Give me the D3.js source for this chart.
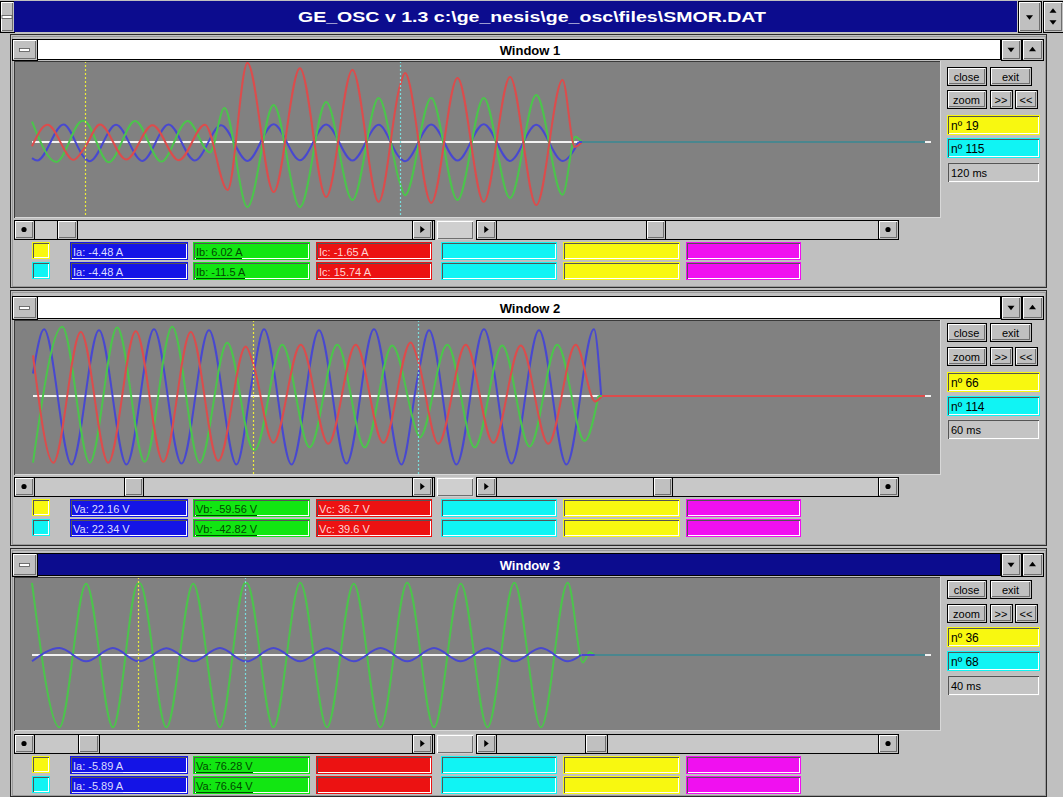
<!DOCTYPE html>
<html>
<head>
<meta charset="utf-8">
<script src="https://cdn.jsdelivr.net/npm/d3@7"></script>
<style>
  html, body { margin: 0; padding: 0; background: #c0c0c0; overflow: hidden; }
  svg { display: block; }
  text { font-family: "Liberation Sans", Arial, sans-serif; }
</style>
</head>
<body>
<svg id="scope" width="1063" height="797"></svg>
<script>
// ---------------------------------------------------------------
// Record SMOR.DAT — 800 Hz sampling (16 samples per 50 Hz cycle)
// Each trace is a list of [sample nº, value] points: the crest of every
// half-cycle plus the readings at the two cursors.
// ---------------------------------------------------------------
const sampleMs = 1.25;
const appTitle = "GE_OSC  v 1.3  c:\\ge_nesis\\ge_osc\\files\\SMOR.DAT";

// Window 1 — phase currents (A)
const w1Names = ["Ia", "Ib", "Ic"];
const w1Units = ["A", "A", "A"];
const w1Span = [3, 275];
const w1Cursors = [19, 115];
const w1AtCursor1 = [-4.48, 6.02, -1.65];
const w1AtCursor2 = [-4.48, -11.5, 15.74];
const w1Ia = [[3,-4.6],[4.6,-5.3],[12.6,5.0],[20.6,-5.5],[28.6,4.9],[36.6,-5.4],[44.6,5.0],[52.6,-5.3],[60.6,4.8],[68.6,-5.4],[76.6,5.1],[84.6,-5.2],[92.6,5.0],[100.6,-5.3],[108.6,4.9],[116.6,-5.5],[124.6,5.0],[132.6,-5.3],[140.6,5.1],[148.6,-5.4],[156.6,4.9],[164.6,-5.4],[169.5,0],[275,0]];
const w1Ib = [[3,5.8],[10.4,-5.7],[18.4,6.1],[26.4,-5.8],[34.4,6.0],[42.4,-5.6],[50.4,6.0],[57.2,-3.0],[61.6,9.7],[68.6,-18.6],[76.6,10.6],[84.6,-18.6],[92.6,11.4],[100.6,-16.6],[108.6,12.6],[116.6,-15.2],[124.6,12.6],[132.6,-16.6],[140.6,12.6],[148.6,-16.0],[156.6,13.4],[164.6,-15.1],[168.5,1.5],[170.5,0],[275,0]];
const w1Ic = [[3,-1.2],[7.7,4.9],[15.7,-5.1],[23.7,5.0],[31.7,-5.0],[39.7,4.8],[47.7,-5.2],[55.7,4.9],[62.6,-13.7],[68.6,22.6],[76.6,-14.3],[84.6,21.1],[92.6,-15.7],[100.6,20.6],[108.6,-17.1],[116.6,19.7],[124.6,-17.4],[132.6,18.3],[140.6,-17.1],[148.6,18.6],[156.6,-18.0],[164.6,17.7],[168.3,-1.4],[170.5,0],[275,0]];
const w1FullScale = [22, 22, 22];

// Window 2 — phase voltages (V)
const w2Names = ["Va", "Vb", "Vc"];
const w2Units = ["V", "V", "V"];
const w2Span = [2, 261.5];
const w2Cursors = [66, 114];
const w2AtCursor1 = [22.16, -59.56, 36.7];
const w2AtCursor2 = [22.34, -42.82, 39.6];
const w2Va = [[2,25],[5.2,74],[13.2,-76],[21.2,73],[29.2,-76],[37.2,74],[45.2,-75],[53.2,73],[61.2,-76],[69.2,74],[77.2,-76],[85.2,73],[93.2,-75],[101.2,74],[109.2,-76],[117.2,73],[125.2,-76],[133.2,74],[141.2,-75],[149.2,73],[157.2,-76],[165.2,74],[167.3,0],[261.5,0]];
const w2Vb = [[2,-74],[10.5,77],[18.5,-74],[26.5,76],[34.5,-73],[42.5,77],[50.5,-74],[58.5,59],[66.5,-60],[74.5,57],[82.5,-57],[90.5,57],[98.5,-57],[106.5,56],[114.5,-46],[122.5,57],[130.5,-57],[138.5,56],[146.5,-56],[154.5,57],[162.5,-50],[166.5,0],[261.5,0]];
const w2Vc = [[2,45],[7.9,-74],[15.9,71],[23.9,-74],[31.9,72],[39.9,-73],[47.9,71],[55.9,-72],[63.9,55],[71.9,-52],[79.9,57],[87.9,-53],[95.9,57],[103.9,-52],[111.9,59.5],[119.9,-53],[127.9,57],[135.9,-52],[143.9,56],[151.9,-53],[159.9,57],[165.5,-6],[167.5,0],[261.5,0]];
const w2FullScale = [85.5, 85.5, 85.5];

// Window 3 — phase A current (A) and voltage (V)
const w3Names = ["Ia", "Va"];
const w3Units = ["A", "V"];
const w3Span = [4.3, 271.3];
const w3Cursors = [36, 68];
const w3AtCursor1 = [-5.89, 76.28];
const w3AtCursor2 = [-5.89, 76.64];
const w3Ia = [[4.3,-5.9],[12.5,6.5],[20.5,-5.95],[28.5,6.5],[36.5,-5.95],[44.5,6.4],[52.5,-5.95],[60.5,6.5],[68.5,-5.95],[76.5,6.5],[84.5,-5.95],[92.5,6.4],[100.5,-5.95],[108.5,6.5],[116.5,-5.95],[124.5,6.5],[132.5,-5.95],[140.5,6.4],[148.5,-5.95],[156.5,6.5],[164.5,-5.9],[168.5,0],[271.3,0]];
const w3Va = [[4.3,76.9],[12.5,-77],[20.5,76],[28.5,-77],[36.5,76.4],[44.5,-77],[52.5,76],[60.5,-77],[68.5,76.8],[76.5,-77],[84.5,77],[92.5,-77],[100.5,76],[108.5,-77],[116.5,77],[124.5,-77],[132.5,76],[140.5,-77],[148.5,77],[156.5,-77],[164.5,77],[169,-8],[171,3],[172.5,0],[271.3,0]];
const w3FullScale = [72, 82];

// ---------------------------------------------------------------
// Screen geometry and colours
// ---------------------------------------------------------------
const traceColors = { blue: "#4848d0", green: "#4cc44c", red: "#dc4c4c" };
const boxColors = ["#1414e6", "#12e612", "#ec1212", "#10f4f4", "#f8f810", "#f010f0"];
const boxText = ["#dcdcff", "#004a00", "#ffd4d4"];
const boxX = [[70,188],[193,310],[316,432],[441,557],[563,680],[686,801]];

const windows = [
  { title: "Window 1", names: w1Names, units: w1Units, span: w1Span, cursors: w1Cursors,
    atCursor: [w1AtCursor1, w1AtCursor2], traces: [w1Ia, w1Ib, w1Ic], fullScale: w1FullScale,
    colors: ["blue", "green", "red"], drawOrder: [0, 1, 2], tail: [[2, 1], [0, 1], [1, 0.5]],
    frame: [34, 288], bar: [39, 60], plot: [61, 218], zero: 142, xr: [32, 925],
    scroll: 220, rows: [242, 262], panel: [67, 90, 115, 138, 162],
    thumbs: [[57, 77], [646, 665]], active: false },
  { title: "Window 2", names: w2Names, units: w2Units, span: w2Span, cursors: w2Cursors,
    atCursor: [w2AtCursor1, w2AtCursor2], traces: [w2Va, w2Vb, w2Vc], fullScale: w2FullScale,
    colors: ["blue", "green", "red"], drawOrder: [0, 1, 2], tail: [[0, 1], [1, 1], [2, 1]],
    frame: [290, 546], bar: [296, 319], plot: [320, 475], zero: 396, xr: [33, 925],
    scroll: 477, rows: [499, 519], panel: [323, 347, 372, 396, 419],
    thumbs: [[124, 143], [653, 672]], active: false },
  { title: "Window 3", names: w3Names, units: w3Units, span: w3Span, cursors: w3Cursors,
    atCursor: [w3AtCursor1, w3AtCursor2], traces: [w3Ia, w3Va], fullScale: w3FullScale,
    colors: ["blue", "green"], drawOrder: [1, 0], tail: [[0, 1], [1, 0.5]],
    frame: [548, 797], bar: [553, 576], plot: [577, 731], zero: 655, xr: [32, 925],
    scroll: 734, rows: [756, 776], panel: [580, 604, 627, 651, 675],
    thumbs: [[78, 99], [585, 607]], active: true }
];

const svg = d3.select("#scope");
svg.append("rect").attr("width", 1063).attr("height", 797).attr("fill", "#c0c0c0");

// ---------- 3-D boxes in the Windows 3.x manner ----------
function bevel(g, x, y, w, h, fill, style, outline) {
  const b = g.append("g").attr("shape-rendering", "crispEdges");
  b.append("rect").attr("x", x).attr("y", y).attr("width", w).attr("height", h)
    .attr("fill", fill).attr("stroke", outline || "none");
  const lt = style === "sunken" ? "#555" : "#fff";
  const rb = style === "sunken" ? "#fff" : "#6e6e6e";
  if (style !== "flat") {
    b.append("path").attr("fill", "none").attr("stroke", lt)
      .attr("d", `M${x + 1.5},${y + h - 1}V${y + 1.5}H${x + w - 1}`);
    b.append("path").attr("fill", "none").attr("stroke", rb)
      .attr("d", `M${x + 1.5},${y + h - 1.5}H${x + w - 1.5}V${y + 1.5}`);
  }
  return b;
}

function label(g, x, y, str, opts = {}) {
  return g.append("text").attr("x", x).attr("y", y).text(str)
    .attr("font-size", opts.size || 11)
    .attr("font-weight", opts.weight || "normal")
    .attr("fill", opts.fill || "#000")
    .attr("text-anchor", opts.anchor || "start")
    .attr("dominant-baseline", "central");
}

function triangle(g, cx, cy, dir, s = 4) {
  const pts = {
    up: [[cx - s, cy + s / 2], [cx + s, cy + s / 2], [cx, cy - s / 2 - 1]],
    down: [[cx - s, cy - s / 2], [cx + s, cy - s / 2], [cx, cy + s / 2 + 1]],
    left: [[cx + s / 2, cy - s], [cx + s / 2, cy + s], [cx - s / 2 - 1, cy]],
    right: [[cx - s / 2, cy - s], [cx - s / 2, cy + s], [cx + s / 2 + 1, cy]]
  }[dir];
  g.append("path").attr("d", d3.line()(pts) + "Z").attr("fill", "#000");
}

function sysBox(g, x, y, w, h) {
  bevel(g, x, y, w, h, "#c0c0c0", "raised", "#000");
  g.append("rect").attr("x", x + w / 2 - 5).attr("y", y + h / 2 - 1).attr("width", 10).attr("height", 3)
    .attr("fill", "#fff").attr("stroke", "#555").attr("stroke-width", 0.8);
}

// ---------- Application caption ----------
const app = svg.append("g");
sysBox(app, 0, 1, 14, 31);
app.append("rect").attr("x", 14).attr("y", 1).attr("width", 1003).attr("height", 31).attr("fill", "#0c0c8e");
label(app, 532, 17, appTitle, { size: 14, weight: "bold", fill: "#fff", anchor: "middle" })
  .attr("textLength", 468).attr("lengthAdjust", "spacingAndGlyphs");
bevel(app, 1018, 1, 23, 31, "#c0c0c0", "raised", "#000");
triangle(app, 1029.5, 17, "down", 3.5);
bevel(app, 1043, 1, 20, 31, "#c0c0c0", "raised", "#000");
triangle(app, 1053, 11, "up", 3.5);
triangle(app, 1053, 22, "down", 3.5);

// ---------- One oscillograph window ----------
windows.forEach((win) => {
  const g = svg.append("g");
  const [f0, f1] = win.frame;
  const [p0, p1] = win.plot;

  // frame and caption bar
  g.append("rect").attr("x", 10.5).attr("y", f0 + 0.5).attr("width", 1036).attr("height", f1 - f0 - 1)
    .attr("fill", "#c0c0c0").attr("stroke", "#2a2a2a").attr("shape-rendering", "crispEdges");
  g.append("rect").attr("x", 12).attr("y", f0 + 2).attr("width", 1033).attr("height", f1 - f0 - 4)
    .attr("fill", "none").attr("stroke", "#9a9a9a").attr("shape-rendering", "crispEdges");
  sysBox(g, 12, win.bar[0], 25, win.bar[1] - win.bar[0]);
  g.append("rect").attr("x", 37.5).attr("y", win.bar[0] + 0.5).attr("width", 963).attr("height", win.bar[1] - win.bar[0] - 1)
    .attr("fill", win.active ? "#0c0c8e" : "#fff").attr("stroke", "#000").attr("shape-rendering", "crispEdges");
  label(g, 530, (win.bar[0] + win.bar[1]) / 2 + 0.5, win.title,
    { size: 13, weight: "bold", fill: win.active ? "#fff" : "#000", anchor: "middle" });
  bevel(g, 1001, win.bar[0], 20, win.bar[1] - win.bar[0], "#c0c0c0", "raised", "#000");
  triangle(g, 1011, (win.bar[0] + win.bar[1]) / 2, "down", 3.5);
  bevel(g, 1022, win.bar[0], 21, win.bar[1] - win.bar[0], "#c0c0c0", "raised", "#000");
  triangle(g, 1032.5, (win.bar[0] + win.bar[1]) / 2, "up", 3.5);

  // plotting surface
  g.append("rect").attr("x", 14).attr("y", p0).attr("width", 926).attr("height", p1 - p0)
    .attr("fill", "#818181").attr("shape-rendering", "crispEdges");
  g.append("path").attr("d", `M14.5,${p1}V${p0 + 0.5}H940`).attr("fill", "none")
    .attr("stroke", "#3a3a3a").attr("shape-rendering", "crispEdges");
  g.append("path").attr("d", `M14.5,${p1 - 0.5}H940.5V${p0}`).attr("fill", "none")
    .attr("stroke", "#d8d8d8").attr("shape-rendering", "crispEdges");

  const clipId = "clip-" + win.title.replace(/\s/g, "");
  svg.append("clipPath").attr("id", clipId).append("rect")
    .attr("x", 15).attr("y", p0 + 1).attr("width", 925).attr("height", p1 - p0 - 2);
  const plot = g.append("g").attr("clip-path", `url(#${clipId})`);

  const x = d3.scaleLinear().domain(win.span).range(win.xr);
  const ys = win.fullScale.map(fs => d3.scaleLinear().domain([-fs, fs]).range([win.zero + 77, win.zero - 77]));

  // zero line
  plot.append("line").attr("x1", x(win.span[0])).attr("x2", x(win.span[1]) + 6)
    .attr("y1", ys[0](0)).attr("y2", ys[0](0)).attr("stroke", "#f2f2f2").attr("stroke-width", 2);

  // traces: crest points merged with the cursor readings, split where the breaker has opened
  const series = win.traces.map((pts, i) => {
    const all = pts.concat(win.cursors.map((c, k) => [c, win.atCursor[k][i]]))
      .sort((a, b) => a[0] - b[0]);
    let last = all.length - 1;
    while (last > 0 && all[last - 1][1] === 0) last--;
    return { live: all.slice(0, last + 1), tail: all.slice(last), i };
  });
  const lineFor = (i, curve) => d3.line().curve(curve)
    .x(d => x(d[0])).y(d => ys[i](d[1]));

  win.drawOrder.forEach(i => {
    plot.append("path").datum(series[i].live)
      .attr("d", lineFor(i, d3.curveMonotoneX))
      .attr("fill", "none").attr("stroke", traceColors[win.colors[i]])
      .attr("stroke-width", 2).attr("stroke-linejoin", "round");
  });
  win.tail.forEach(([i, op]) => {
    plot.append("path").datum(series[i].tail)
      .attr("d", lineFor(i, d3.curveLinear))
      .attr("fill", "none").attr("stroke", traceColors[win.colors[i]])
      .attr("stroke-opacity", op).attr("stroke-width", 2);
  });

  // cursors
  const cursorColors = ["#ecec3c", "#7adcdc"];
  win.cursors.forEach((c, k) => {
    plot.append("line").attr("x1", Math.round(x(c)) + 0.5).attr("x2", Math.round(x(c)) + 0.5)
      .attr("y1", p0).attr("y2", p1).attr("stroke", cursorColors[k])
      .attr("stroke-width", 1.2).attr("stroke-dasharray", "2,2");
  });

  // horizontal scroll bars
  const sy = win.scroll, sh = 19;
  bevel(g, 14, sy, 420, sh, "#c8c8c8", "flat", "#000");
  bevel(g, 14, sy, 20, sh, "#c0c0c0", "raised", "#000");
  g.append("circle").attr("cx", 24).attr("cy", sy + sh / 2).attr("r", 2.6).attr("fill", "#000");
  bevel(g, 412, sy, 20, sh, "#c0c0c0", "raised", "#000");
  triangle(g, 422, sy + sh / 2, "right", 3.5);
  bevel(g, win.thumbs[0][0], sy, win.thumbs[0][1] - win.thumbs[0][0], sh, "#c0c0c0", "raised", "#000");
  bevel(g, 436, sy, 38, sh + 1, "#cfcfcf", "raised", "none");
  bevel(g, 476, sy, 422, sh, "#c8c8c8", "flat", "#000");
  bevel(g, 476, sy, 20, sh, "#c0c0c0", "raised", "#000");
  triangle(g, 486, sy + sh / 2, "right", 3.5);
  bevel(g, 878, sy, 20, sh, "#c0c0c0", "raised", "#000");
  g.append("circle").attr("cx", 888).attr("cy", sy + sh / 2).attr("r", 2.6).attr("fill", "#000");
  bevel(g, win.thumbs[1][0], sy, win.thumbs[1][1] - win.thumbs[1][0], sh, "#c0c0c0", "raised", "#000");

  // readings at the two cursors
  const swatch = ["#f8f810", "#10f4f4"];
  win.rows.forEach((ry, k) => {
    bevel(g, 32, ry, 18, 17, swatch[k], "sunken", "none");
    boxX.forEach(([bx0, bx1], j) => {
      bevel(g, bx0, ry, bx1 - bx0, 18, boxColors[j], "sunken", "none");
      if (j < win.names.length) {
        const v = win.atCursor[k][j];
        const t = label(g, bx0 + 3, ry + 9.5, `${win.names[j]}: ${v} ${win.units[j]}`,
          { size: 11, fill: boxText[j] });
        const tw = t.node().getComputedTextLength();
        g.append("line").attr("x1", bx0 + 3).attr("x2", bx0 + 3 + tw)
          .attr("y1", ry + 16.5).attr("y2", ry + 16.5).attr("stroke", boxText[j])
          .attr("shape-rendering", "crispEdges");
      }
    });
  });

  // right-hand control panel
  const [yb1, yb2, yc1, yc2, yd] = win.panel;
  const btn = (bx, by, bw, txt) => {
    bevel(g, bx, by, bw, 18, "#c0c0c0", "raised", "#000");
    label(g, bx + bw / 2, by + 9.5, txt, { size: 11, anchor: "middle" });
  };
  btn(947, yb1, 39, "close");
  btn(990, yb1, 41, "exit");
  btn(947, yb2, 39, "zoom");
  btn(990, yb2, 22, ">>");
  btn(1015, yb2, 22, "<<");
  bevel(g, 947, yc1, 93, 20, "#f8f810", "sunken", "none");
  label(g, 951, yc1 + 10.5, `nº ${win.cursors[0]}`, { size: 12 });
  bevel(g, 947, yc2, 93, 20, "#10f4f4", "sunken", "none");
  label(g, 951, yc2 + 10.5, `nº ${win.cursors[1]}`, { size: 12 });
  bevel(g, 947, yd, 93, 21, "#c4c4c4", "sunken", "none");
  label(g, 951, yd + 10.5, `${(win.cursors[1] - win.cursors[0]) * sampleMs} ms`, { size: 11 });
});
</script>
</body>
</html>
